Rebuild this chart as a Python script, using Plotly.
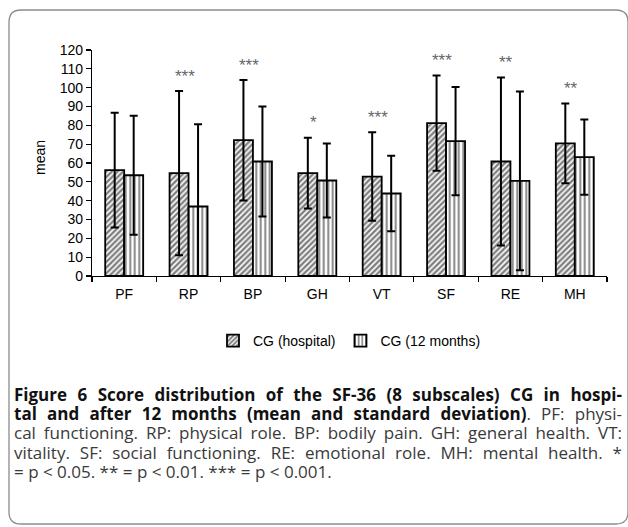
import plotly.graph_objects as go

categories = ["PF", "RP", "BP", "GH", "VT", "SF", "RE", "MH"]
hosp_mean = [56.2, 54.6, 72.1, 54.6, 52.8, 81.2, 60.8, 70.4]
hosp_sd = [30.5, 43.6, 32.0, 18.8, 23.5, 25.3, 44.6, 21.2]
m12_mean = [53.5, 36.9, 60.8, 50.7, 43.8, 71.6, 50.5, 63.1]
m12_sd = [31.6, 43.7, 29.2, 19.6, 20.0, 28.7, 47.5, 20.0]
signif = ["", "***", "***", "*", "***", "***", "**", "**"]
yticks = list(range(0, 121, 10))

BOLD = "<span style='color:#111111'><b>{}</b></span>"
caption_lines = [
    BOLD.format("Figure 6 Score distribution of the SF-36 (8 subscales) CG in hospi-"),
    BOLD.format("tal and after 12 months (mean and standard deviation)") + ". PF: physi-",
    "cal functioning. RP: physical role. BP: bodily pain. GH: general health. VT:",
    "vitality. SF: social functioning. RE: emotional role. MH: mental health. *",
    "= p &lt; 0.05. ** = p &lt; 0.01. *** = p &lt; 0.001.",
]

W, H = 628, 527
ML, MR, MT, MB = 92, 21, 50, 251
PW, PH = W - ML - MR, H - MT - MB


def px(x):
    return (x - ML) / PW


def py(y):
    return (H - MB - y) / PH


AX_FONT = dict(family="Liberation Sans, Arial, sans-serif", size=14, color="black")

fig = go.Figure()
fig.add_trace(go.Bar(
    x=categories, y=hosp_mean, name="CG (hospital)",
    marker=dict(color="white", line=dict(color="black", width=1.8),
                pattern=dict(shape="/", size=4, solidity=0.6, fgcolor="black",
                             bgcolor="white", fillmode="overlay")),
    error_y=dict(type="data", array=hosp_sd, color="black", thickness=2, width=4),
))
fig.add_trace(go.Bar(
    x=categories, y=m12_mean, name="CG (12 months)",
    marker=dict(color="white", line=dict(color="black", width=1.8),
                pattern=dict(shape="|", size=4.5, solidity=0.42, fgcolor="black",
                             bgcolor="white", fillmode="overlay")),
    error_y=dict(type="data", array=m12_sd, color="black", thickness=2, width=4),
))

annotations = []
for c, m, s, t in zip(categories, hosp_mean, hosp_sd, signif):
    if t:
        annotations.append(dict(
            x=c, y=m + s + 10.5, xref="x", yref="y", text=t, showarrow=False,
            xshift=-4, yshift=-5, font=dict(family="Liberation Sans, Arial", size=17, color="#666666"),
            xanchor="center", yanchor="middle"))

cap_y = [394, 413.5, 433, 452, 471]
for line, yy in zip(caption_lines, cap_y):
    annotations.append(dict(
        x=px(12), y=py(yy), xref="paper", yref="paper", text=line, showarrow=False,
        xanchor="left", yanchor="middle", align="left",
        font=dict(family="Open Sans, sans-serif", size=17, color="#3a3a3a")))

annotations.append(dict(
    x=px(40), y=py(158), xref="paper", yref="paper", text="mean", textangle=-90,
    showarrow=False, xanchor="center", yanchor="middle", font=AX_FONT))

r = 12
x0, y0, x1, y1 = 9, 10, 628, 524
path = (f"M {px(x0)},{py(y0 + r)} Q {px(x0)},{py(y0)} {px(x0 + r)},{py(y0)} "
        f"L {px(x1 - r)},{py(y0)} Q {px(x1)},{py(y0)} {px(x1)},{py(y0 + r)} "
        f"L {px(x1)},{py(y1 - r)} Q {px(x1)},{py(y1)} {px(x1 - r)},{py(y1)} "
        f"L {px(x0 + r)},{py(y1)} Q {px(x0)},{py(y1)} {px(x0)},{py(y1 - r)} Z")

fig.update_layout(
    width=W, height=H,
    margin=dict(l=ML, r=MR, t=MT, b=MB, pad=0),
    paper_bgcolor="white", plot_bgcolor="white",
    barmode="group", bargap=0.41, bargroupgap=0,
    showlegend=True,
    legend=dict(orientation="h", x=0.5, xanchor="center", y=py(341), yanchor="middle",
                font=AX_FONT, itemwidth=30, tracegroupgap=0),
    annotations=annotations,
    shapes=[dict(type="path", path=path, xref="paper", yref="paper",
                 line=dict(color="#8c8c8c", width=1.3), layer="below")],
)
fig.update_xaxes(
    type="category", showline=True, linecolor="black", linewidth=1.2,
    ticks="outside", ticklen=5, tickcolor="black", tickwidth=1.2, tickson="boundaries",
    tickfont=AX_FONT, ticklabelstandoff=5, showgrid=False, zeroline=False)
fig.update_yaxes(
    range=[0, 120], tickvals=yticks, showline=True, linecolor="black", linewidth=1.2,
    ticks="outside", ticklen=5, tickcolor="black", tickwidth=1.2,
    tickfont=AX_FONT, showgrid=False, zeroline=False)

# Remove the page margin and justify the first four caption lines (word spacing)
# like the typeset original.
post_js = """
document.body.style.margin = '0';
document.body.style.overflow = 'hidden';
var target = 608;
var els = document.querySelectorAll('.annotation-text');
var starts = ['Figure 6', 'tal and after', 'cal functioning', 'vitality. SF'];
els.forEach(function(el) {
  var t = el.textContent;
  for (var i = 0; i < starts.length; i++) {
    if (t.indexOf(starts[i]) === 0) {
      var w = el.getComputedTextLength();
      var n = (t.match(/ /g) || []).length;
      if (n > 0) { el.style.wordSpacing = ((target - w) / n) + 'px'; }
    }
  }
});
"""

fig.write_html("out.html", post_script=post_js,
               config={"displayModeBar": False, "staticPlot": True})
